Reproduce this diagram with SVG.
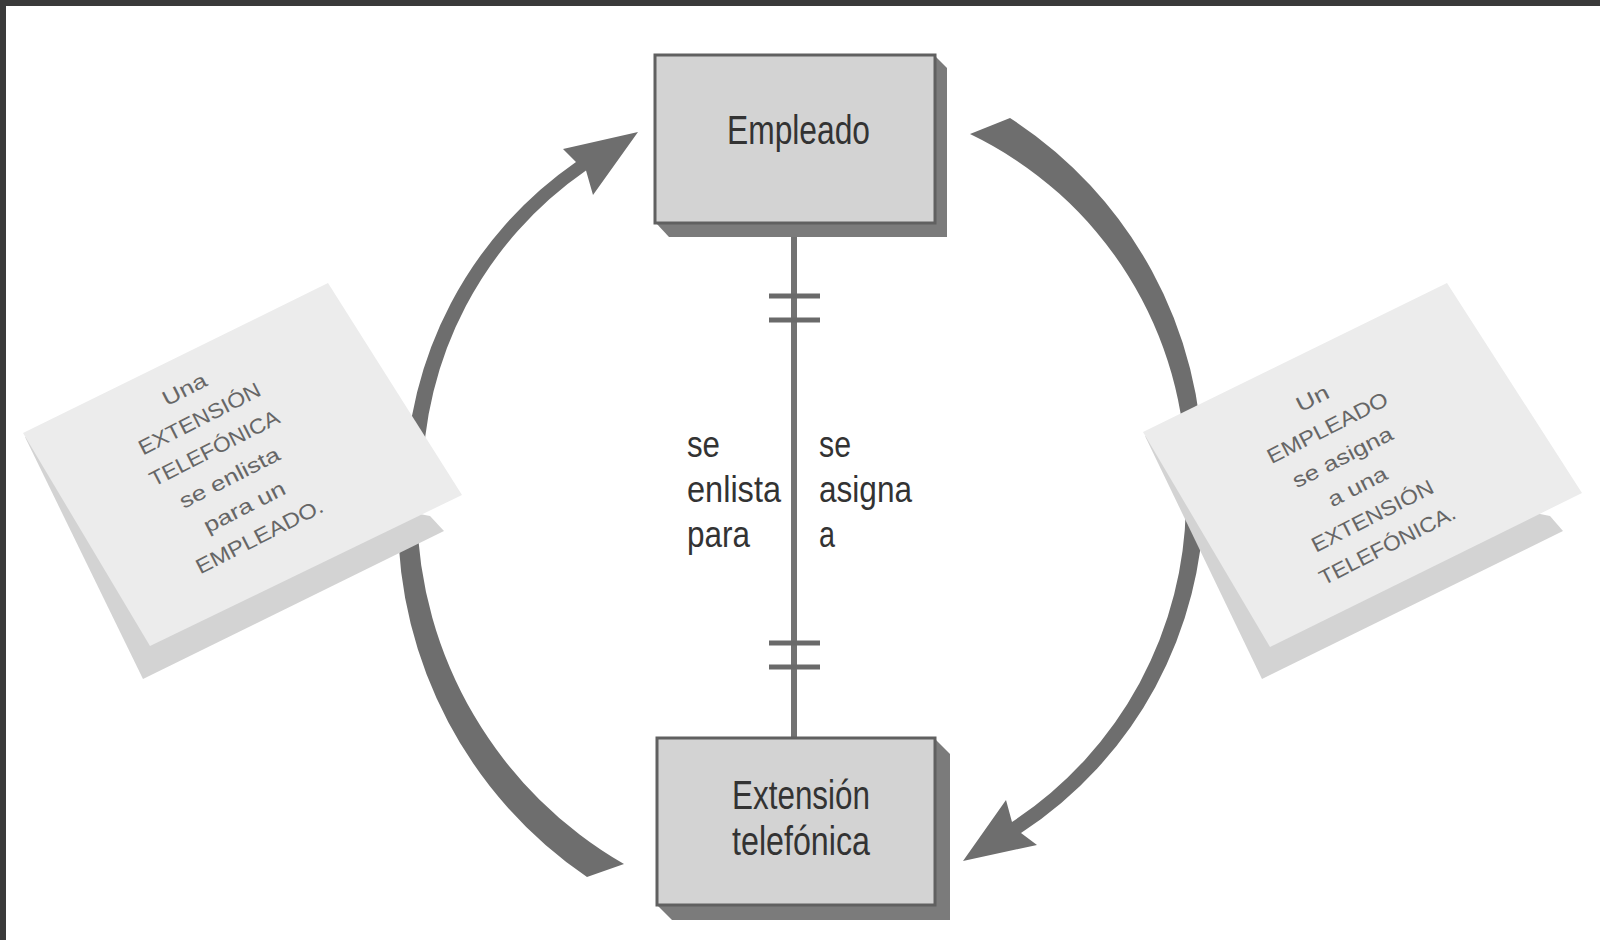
<svg xmlns="http://www.w3.org/2000/svg" width="1600" height="940" viewBox="0 0 1600 940">
  <style>
    .frame { fill: #3a3a3a; }
    .arrow { fill: #6e6e6e; }
    .sheet { fill: #ececec; }
    .sheetShadow { fill: #d3d3d3; }
    .boxShadow { fill: #7b7b7b; }
    .box { fill: #d3d3d3; stroke: #606060; stroke-width: 3; }
    .boxText { font-family: "Liberation Sans Narrow", "Liberation Sans", Arial, sans-serif; font-size: 40px; fill: #333333; }
    .relText { font-family: "Liberation Sans Narrow", "Liberation Sans", Arial, sans-serif; font-size: 36px; fill: #333333; }
    .noteText { font-family: "Liberation Sans", Arial, sans-serif; font-size: 21px; fill: #666666; text-anchor: middle; }
    .relLine { stroke: #727272; stroke-width: 6; fill: none; }
    .tick { stroke: #6a6a6a; stroke-width: 5; fill: none; }
  </style>

  <rect class="frame" x="0" y="0" width="1600" height="6"/>
  <rect class="frame" x="0" y="0" width="6" height="940"/>

  <g id="cycle-arrows">
    <path id="arrow-left" class="arrow" d="M587,877 A432,432 0 0 1 398,520 L405.5,487 A395.5,395.5 0 0 1 576,162 L563,149 L638,132 L593,195 L586,170.5 A378.5,378.5 0 0 0 422.5,482 L417,512 A413,413 0 0 0 624,864 Z"/>
    <path id="arrow-right" class="arrow" d="M1010,118 A421.3,421.3 0 0 1 1203,473 L1204,495 A404,404 0 0 1 1021,833 L1037,845 L963,861 L1006,800 L1012,822 A386,386 0 0 0 1186,500 L1186,480 A381,381 0 0 0 970,134 Z"/>
  </g>

  <g id="note-left">
    <polygon class="sheetShadow" points="25,437 143,679 444,531 430,516"/>
    <polygon class="sheet" points="328,283 462,495 150,646 23,433"/>
    <g transform="translate(222,463) rotate(-27)">
      <text class="noteText" x="0" y="-75.5" textLength="47" lengthAdjust="spacingAndGlyphs">Una</text>
      <text class="noteText" x="0" y="-42.5" textLength="134" lengthAdjust="spacingAndGlyphs">EXTENSIÓN</text>
      <text class="noteText" x="0" y="-9.5" textLength="143" lengthAdjust="spacingAndGlyphs">TELEFÓNICA</text>
      <text class="noteText" x="0" y="23.5" textLength="110" lengthAdjust="spacingAndGlyphs">se enlista</text>
      <text class="noteText" x="0" y="56.5" textLength="89" lengthAdjust="spacingAndGlyphs">para un</text>
      <text class="noteText" x="0" y="89.5" textLength="140" lengthAdjust="spacingAndGlyphs">EMPLEADO.</text>
    </g>
  </g>

  <g id="note-right">
    <polygon class="sheetShadow" points="1145,436 1262,679 1563,531 1550,516"/>
    <polygon class="sheet" points="1447,283 1582,493 1270,647 1143,432"/>
    <g transform="translate(1350,472) rotate(-27)">
      <text class="noteText" x="0" y="-75.5" textLength="34" lengthAdjust="spacingAndGlyphs">Un</text>
      <text class="noteText" x="0" y="-42.5" textLength="133" lengthAdjust="spacingAndGlyphs">EMPLEADO</text>
      <text class="noteText" x="0" y="-9.5" textLength="110" lengthAdjust="spacingAndGlyphs">se asigna</text>
      <text class="noteText" x="0" y="23.5" textLength="64" lengthAdjust="spacingAndGlyphs">a una</text>
      <text class="noteText" x="0" y="56.5" textLength="134" lengthAdjust="spacingAndGlyphs">EXTENSIÓN</text>
      <text class="noteText" x="0" y="89.5" textLength="150" lengthAdjust="spacingAndGlyphs">TELEFÓNICA.</text>
    </g>
  </g>

  <g id="connectors">
    <line class="relLine" x1="794" y1="223" x2="794" y2="738"/>
    <line class="tick" x1="769" y1="296" x2="820" y2="296"/>
    <line class="tick" x1="769" y1="320" x2="820" y2="320"/>
    <line class="tick" x1="769" y1="643" x2="820" y2="643"/>
    <line class="tick" x1="769" y1="667" x2="820" y2="667"/>
    <text class="relText" x="687" y="457" textLength="33" lengthAdjust="spacingAndGlyphs">se</text>
    <text class="relText" x="687" y="502" textLength="94" lengthAdjust="spacingAndGlyphs">enlista</text>
    <text class="relText" x="687" y="547" textLength="63" lengthAdjust="spacingAndGlyphs">para</text>
    <text class="relText" x="819" y="457" textLength="32" lengthAdjust="spacingAndGlyphs">se</text>
    <text class="relText" x="819" y="502" textLength="93" lengthAdjust="spacingAndGlyphs">asigna</text>
    <text class="relText" x="819" y="547" textLength="16" lengthAdjust="spacingAndGlyphs">a</text>
  </g>

  <g id="node-empleado">
    <polygon class="boxShadow" points="935,56 947,68 947,237 669,237 656,223"/>
    <rect class="box" x="655" y="55" width="280" height="168"/>
    <text class="boxText" x="727" y="144" textLength="143" lengthAdjust="spacingAndGlyphs">Empleado</text>
  </g>

  <g id="node-extension">
    <polygon class="boxShadow" points="935,739 950,754 950,920 672,920 657,905"/>
    <rect class="box" x="657" y="738" width="278" height="167"/>
    <text class="boxText" x="732" y="809" textLength="138" lengthAdjust="spacingAndGlyphs">Extensión</text>
    <text class="boxText" x="732" y="855" textLength="138" lengthAdjust="spacingAndGlyphs">telefónica</text>
  </g>
</svg>
